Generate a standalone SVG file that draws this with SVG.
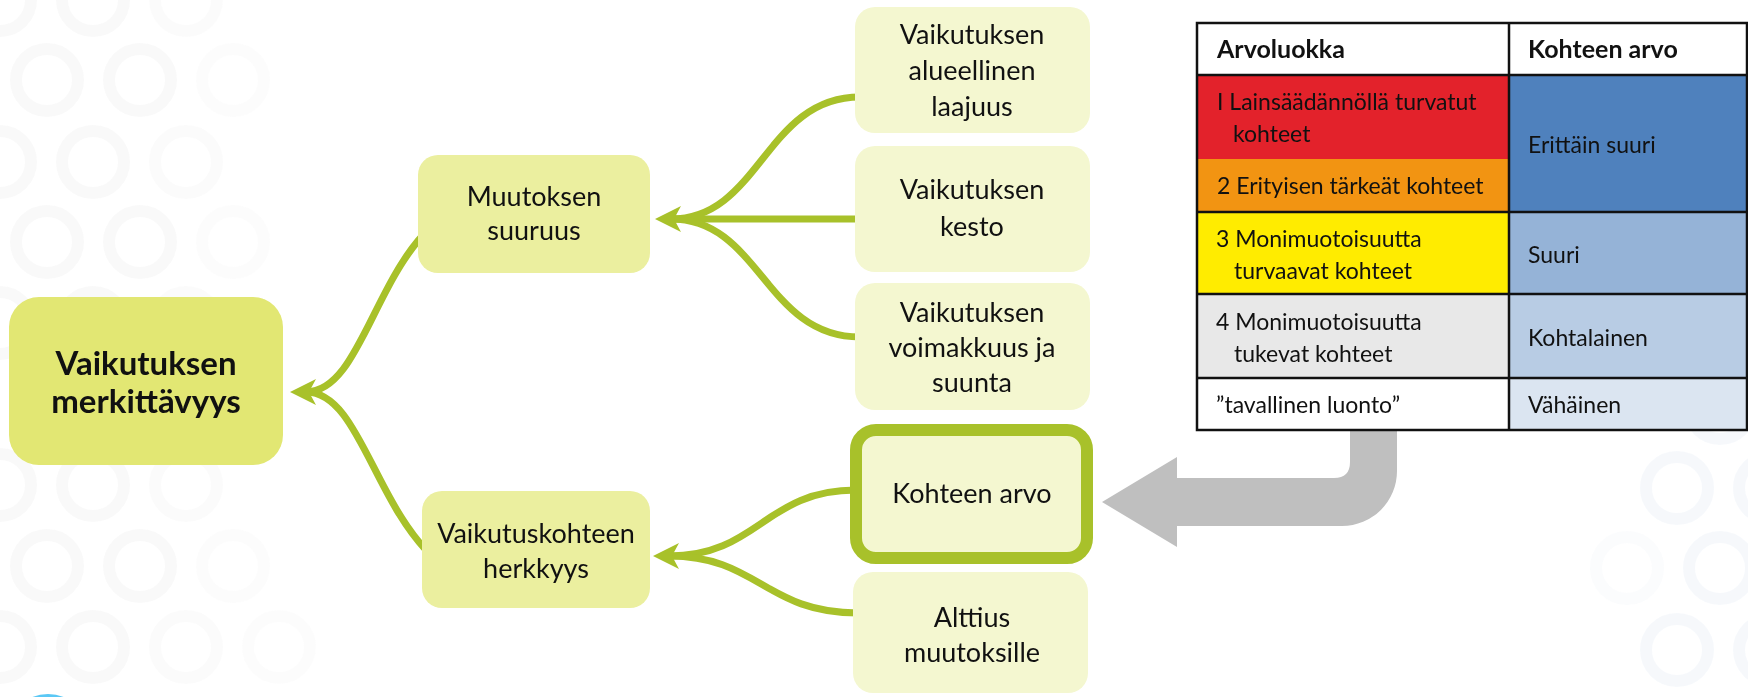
<svg xmlns="http://www.w3.org/2000/svg" width="1748" height="697" viewBox="0 0 1748 697">
<defs>
<style>
.bgl{fill:none;stroke:#f5f5f5;stroke-width:12}
.bgr{fill:none;stroke:#f1f5fa;stroke-width:12}
.t{font-family:Lato,"Open Sans","Liberation Sans",sans-serif;fill:#111;}
.n{font-size:27px;text-anchor:middle}
.b{font-weight:bold}
.tb{font-size:23px}
.th{font-size:25px;font-weight:bold}
.con{fill:none;stroke:#a8c12a;stroke-width:7;stroke-linecap:butt}
.ah{fill:#a8c12a}
.main{fill:#e2e773}
.mid{fill:#ebef9f}
.leaf{fill:#f4f7d0}
</style>
</defs>
<rect width="1748" height="697" fill="#ffffff"/>
<g id="background">
<g opacity="0.55">
<circle class="bgl" cx="0" cy="0" r="31"/><circle class="bgl" cx="93" cy="0" r="31"/><circle class="bgl" cx="186" cy="0" r="31" opacity="0.6"/>
<circle class="bgl" cx="47" cy="80" r="31"/><circle class="bgl" cx="140" cy="80" r="31"/><circle class="bgl" cx="233" cy="80" r="31" opacity="0.5"/>
<circle class="bgl" cx="0" cy="162" r="31"/><circle class="bgl" cx="93" cy="162" r="31"/><circle class="bgl" cx="186" cy="162" r="31" opacity="0.7"/>
<circle class="bgl" cx="47" cy="242" r="31"/><circle class="bgl" cx="140" cy="242" r="31"/><circle class="bgl" cx="233" cy="242" r="31" opacity="0.5"/>
<circle class="bgl" cx="0" cy="323" r="31"/><circle class="bgl" cx="93" cy="323" r="31"/><circle class="bgl" cx="186" cy="323" r="31" opacity="0.7"/>
<circle class="bgl" cx="47" cy="404" r="31"/><circle class="bgl" cx="140" cy="404" r="31"/><circle class="bgl" cx="233" cy="404" r="31" opacity="0.5"/>
<circle class="bgl" cx="0" cy="485" r="31"/><circle class="bgl" cx="93" cy="485" r="31"/><circle class="bgl" cx="186" cy="485" r="31" opacity="0.7"/>
<circle class="bgl" cx="47" cy="566" r="31"/><circle class="bgl" cx="140" cy="566" r="31"/><circle class="bgl" cx="233" cy="566" r="31" opacity="0.5"/>
<circle class="bgl" cx="0" cy="647" r="31"/><circle class="bgl" cx="93" cy="647" r="31"/><circle class="bgl" cx="186" cy="647" r="31" opacity="0.7"/><circle class="bgl" cx="279" cy="647" r="31" opacity="0.4"/>
</g>
<g opacity="0.6">
<circle class="bgr" cx="1720" cy="408" r="31"/><circle class="bgr" cx="1677" cy="488" r="31"/><circle class="bgr" cx="1770" cy="488" r="31"/>
<circle class="bgr" cx="1720" cy="568" r="31"/><circle class="bgr" cx="1627" cy="568" r="31" opacity="0.5"/>
<circle class="bgr" cx="1677" cy="650" r="31"/><circle class="bgr" cx="1770" cy="650" r="31"/>
</g>
<circle cx="48" cy="734" r="34" fill="none" stroke="#5bc8f5" stroke-width="12"/>
</g>
<g id="connectors">
<path class="con" d="M424 234 C372 290 356 392 306 392"/>
<path class="con" d="M426 550 C372 492 356 392 306 392"/>
<path class="ah" d="M290 392 L316 379 L309 392 L316 405 Z"/>
<path class="con" d="M860 97 C765 97 760 219 671 219"/>
<path class="con" d="M860 219 L671 219"/>
<path class="con" d="M860 337 C765 337 760 219 671 219"/>
<path class="ah" d="M655 219 L681 206 L674 219 L681 232 Z"/>
<path class="con" d="M856 490 C765 490 758 556 669 556"/>
<path class="con" d="M858 613 C765 613 758 556 669 556"/>
<path class="ah" d="M653 556 L679 543 L672 556 L679 569 Z"/>
<path d="M1350 428 L1350 462 Q1350 478 1334 478 L1177 478 L1177 457 L1102 502 L1177 547 L1177 526 L1342 526 A55 55 0 0 0 1397 471 L1397 428 Z" fill="#bfbfbf"/>
</g>
<g id="node-main">
<rect class="main" x="9" y="297" width="274" height="168" rx="30"/>
<text class="t n b" x="146" y="375" style="font-size:33px">Vaikutuksen</text>
<text class="t n b" x="146" y="413" style="font-size:33px">merkittävyys</text>
</g>
<g id="node-muutoksen">
<rect class="mid" x="418" y="155" width="232" height="118" rx="20"/>
<text class="t n" x="534" y="206">Muutoksen</text>
<text class="t n" x="534" y="240">suuruus</text>
</g>
<g id="node-herkkyys">
<rect class="mid" x="422" y="491" width="228" height="117" rx="20"/>
<text class="t n" x="536" y="543">Vaikutuskohteen</text>
<text class="t n" x="536" y="578">herkkyys</text>
</g>
<g id="node-laajuus">
<rect class="leaf" x="855" y="7" width="235" height="126" rx="20"/>
<text class="t n" x="972" y="44">Vaikutuksen</text>
<text class="t n" x="972" y="80">alueellinen</text>
<text class="t n" x="972" y="116">laajuus</text>
</g>
<g id="node-kesto">
<rect class="leaf" x="855" y="146" width="235" height="126" rx="20"/>
<text class="t n" x="972" y="199">Vaikutuksen</text>
<text class="t n" x="972" y="236">kesto</text>
</g>
<g id="node-voimakkuus">
<rect class="leaf" x="855" y="283" width="235" height="127" rx="20"/>
<text class="t n" x="972" y="322">Vaikutuksen</text>
<text class="t n" x="972" y="357">voimakkuus ja</text>
<text class="t n" x="972" y="392">suunta</text>
</g>
<g id="node-kohteen-arvo">
<rect class="leaf" x="856" y="430" width="231" height="128" rx="20" stroke="#a8c12a" stroke-width="12"/>
<text class="t n" x="972" y="503">Kohteen arvo</text>
</g>
<g id="node-alttius">
<rect class="leaf" x="853" y="572" width="235" height="121" rx="20"/>
<text class="t n" x="972" y="627">Alttius</text>
<text class="t n" x="972" y="662">muutoksille</text>
</g>
<g id="table">
<rect x="1197" y="23" width="312" height="52" fill="#ffffff"/>
<rect x="1509" y="23" width="238" height="52" fill="#ffffff"/>
<rect x="1197" y="75" width="312" height="84" fill="#e3222b"/>
<rect x="1197" y="159" width="312" height="53" fill="#f29412"/>
<rect x="1509" y="75" width="238" height="137" fill="#4f81bd"/>
<rect x="1197" y="212" width="312" height="82" fill="#ffec00"/>
<rect x="1509" y="212" width="238" height="82" fill="#95b3d7"/>
<rect x="1197" y="294" width="312" height="84" fill="#e8e8e8"/>
<rect x="1509" y="294" width="238" height="84" fill="#b8cce4"/>
<rect x="1197" y="378" width="312" height="52" fill="#ffffff"/>
<rect x="1509" y="378" width="238" height="52" fill="#dbe5f1"/>
<g stroke="#111" stroke-width="2.5" fill="none">
<rect x="1197" y="23" width="550" height="407"/>
<line x1="1509" y1="23" x2="1509" y2="430"/>
<line x1="1197" y1="75" x2="1747" y2="75"/>
<line x1="1197" y1="212" x2="1747" y2="212"/>
<line x1="1197" y1="294" x2="1747" y2="294"/>
<line x1="1197" y1="378" x2="1747" y2="378"/>
</g>
<text class="t th" x="1217" y="58">Arvoluokka</text>
<text class="t th" x="1528" y="58">Kohteen arvo</text>
<text class="t tb" x="1217" y="110">I Lainsäädännöllä turvatut</text>
<text class="t tb" x="1233" y="142">kohteet</text>
<text class="t tb" x="1217" y="194">2 Erityisen tärkeät kohteet</text>
<text class="t tb" x="1528" y="153">Erittäin suuri</text>
<text class="t tb" x="1216" y="247">3 Monimuotoisuutta</text>
<text class="t tb" x="1234" y="279">turvaavat kohteet</text>
<text class="t tb" x="1528" y="263">Suuri</text>
<text class="t tb" x="1216" y="330">4 Monimuotoisuutta</text>
<text class="t tb" x="1234" y="362">tukevat kohteet</text>
<text class="t tb" x="1528" y="346">Kohtalainen</text>
<text class="t tb" x="1216" y="413">”tavallinen luonto”</text>
<text class="t tb" x="1528" y="413">Vähäinen</text>
</g>
</svg>
